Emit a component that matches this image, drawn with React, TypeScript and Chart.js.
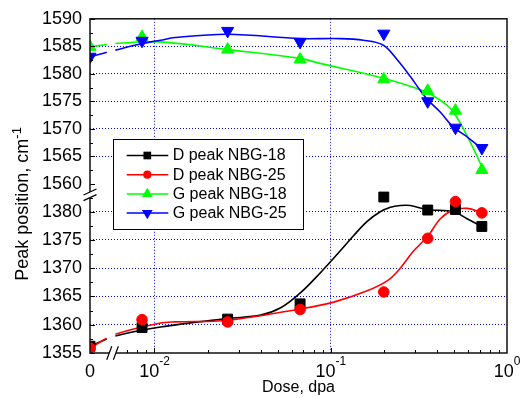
import React, { useEffect, useRef } from 'react';
import { Chart, registerables } from 'chart.js';

Chart.register(...registerables);

// ---------- measured points ----------
const DOSE = [0, 0.0085, 0.026, 0.067, 0.2, 0.355, 0.51, 0.72];
const D_PEAK_NBG18 = [1356.2, 1359.5, 1361.0, 1363.7, 1382.6, 1380.3, 1380.4, 1377.4];
const D_PEAK_NBG25 = [1355.9, 1360.9, 1360.5, 1362.7, 1365.8, 1375.3, 1381.8, 1379.8];
const G_PEAK_NBG18 = [1584.9, 1586.7, 1584.4, 1582.6, 1579.0, 1576.9, 1573.3, 1562.5];
const G_PEAK_NBG25 = [1583.1, 1586.0, 1587.8, 1585.8, 1587.3, 1575.0, 1570.2, 1566.5];

// ---------- fitted curves ----------
const FIT_D18_DOSE = [0, 0.006, 0.0108, 0.026, 0.04, 0.052, 0.067, 0.082, 0.1, 0.118, 0.135, 0.161, 0.191, 0.218, 0.248, 0.283, 0.35, 0.5, 0.59, 0.72];
const FIT_D18 = [1356.2, 1358.0, 1359.6, 1361.1, 1361.7, 1363.0, 1365.6, 1368.3, 1371.2, 1373.7, 1375.8, 1378.3, 1380.0, 1380.8, 1381.1, 1381.1, 1380.4, 1380.0, 1378.8, 1377.4];
const FIT_D25_DOSE = [0, 0.006, 0.0108, 0.0131, 0.026, 0.067, 0.104, 0.161, 0.21, 0.248, 0.294, 0.354, 0.42, 0.497, 0.596, 0.72];
const FIT_D25 = [1355.9, 1358.3, 1360.3, 1360.5, 1360.8, 1362.8, 1364.0, 1366.0, 1367.8, 1370.0, 1373.0, 1375.6, 1378.8, 1380.3, 1380.6, 1379.8];
const FIT_G18_DOSE = [0, 0.006, 0.0108, 0.026, 0.067, 0.087, 0.199, 0.323, 0.382, 0.459, 0.497, 0.566, 0.645, 0.72];
const FIT_G18 = [1584.9, 1585.5, 1585.8, 1584.4, 1582.8, 1581.9, 1579.2, 1577.1, 1576.0, 1574.2, 1573.0, 1570.0, 1566.4, 1563.1];
const FIT_G25_DOSE = [0, 0.006, 0.0085, 0.0108, 0.0131, 0.026, 0.067, 0.113, 0.153, 0.199, 0.239, 0.283, 0.323, 0.354, 0.419, 0.497, 0.596, 0.72];
const FIT_G25 = [1583.1, 1584.3, 1585.5, 1586.1, 1586.6, 1587.2, 1586.4, 1586.4, 1586.1, 1585.2, 1582.5, 1579.5, 1576.9, 1575.3, 1573.0, 1570.3, 1568.5, 1566.4];

// ---------- axes ----------
const Y_TICKS = [1355, 1360, 1365, 1370, 1375, 1380, 1560, 1565, 1570, 1575, 1580, 1585, 1590];
const Y_MINOR = [1357.5, 1362.5, 1367.5, 1372.5, 1377.5, 1382.5, 1562.5, 1567.5, 1572.5, 1577.5, 1582.5, 1587.5];
const X_TICKS = [0, 0.01, 0.1, 1];
const X_TICK_BASE = ['0', '10', '10', '10'];
const X_TICK_EXP = ['', '-2', '-1', '0'];
const X_MINOR = [0.007, 0.008, 0.009, 0.02, 0.03, 0.04, 0.05, 0.06, 0.07, 0.08, 0.09, 0.2, 0.3, 0.4, 0.5, 0.6, 0.7, 0.8, 0.9];

const LEGEND_LABELS = ['D peak NBG-18', 'D peak NBG-25', 'G peak NBG-18', 'G peak NBG-25'];
const COLORS = ['#000000', '#ff0000', '#00ff00', '#0000ff'];
const SHAPES = ['rect', 'circle', 'triangle', 'triangleDown'];

// axis breaks
const Y_LOWER = [1355, 1383];
const Y_UPPER = [1558, 1590];
const Y_LOWER_SHARE = 0.4734;
const X_LOG_START = 0.006;
const X_ZERO_SPAN = 0.144; // decades used by the "0" section plus the break
const X_GAP_FROM = 0.096;
const X_BREAK_MARK = 0.128;
const X_MIN = Math.log10(X_LOG_START) - X_ZERO_SPAN;

const FONT = '"Liberation Sans", Arial, sans-serif';

function yMap(v: number) {
  if (v <= (Y_LOWER[1] + Y_UPPER[0]) / 2) {
    return ((v - Y_LOWER[0]) / (Y_LOWER[1] - Y_LOWER[0])) * Y_LOWER_SHARE;
  }
  return Y_LOWER_SHARE + ((v - Y_UPPER[0]) / (Y_UPPER[1] - Y_UPPER[0])) * (1 - Y_LOWER_SHARE);
}
function xMap(d: number) {
  return d <= 0 ? X_MIN : Math.log10(d);
}
const pts = (xs: number[], ys: number[]) => xs.map((d, i) => ({ x: xMap(d), y: yMap(ys[i]) }));

function drawShape(ctx: CanvasRenderingContext2D, shape: string, cx: number, cy: number, s: number) {
  ctx.beginPath();
  if (shape === 'rect') {
    ctx.rect(cx - s * 0.62, cy - s * 0.62, s * 1.24, s * 1.24);
  } else if (shape === 'circle') {
    ctx.arc(cx, cy, s * 0.66, 0, Math.PI * 2);
  } else if (shape === 'triangle') {
    ctx.moveTo(cx, cy - s);
    ctx.lineTo(cx + s * 0.866, cy + s * 0.5);
    ctx.lineTo(cx - s * 0.866, cy + s * 0.5);
    ctx.closePath();
  } else {
    ctx.moveTo(cx, cy + s);
    ctx.lineTo(cx + s * 0.866, cy - s * 0.5);
    ctx.lineTo(cx - s * 0.866, cy - s * 0.5);
    ctx.closePath();
  }
  ctx.fill();
}

const decor = {
  id: 'decor',
  afterDatasetsDraw(chart: any) {
    const { ctx, chartArea: a, scales } = chart;
    const xs = scales.x;
    const ys = scales.y;
    ctx.save();
    // inward ticks
    ctx.strokeStyle = '#000';
    ctx.lineWidth = 1;
    ctx.beginPath();
    Y_TICKS.forEach((v) => {
      const py = Math.round(ys.getPixelForValue(yMap(v))) + 0.5;
      ctx.moveTo(a.left, py);
      ctx.lineTo(a.left + 5, py);
    });
    Y_MINOR.forEach((v) => {
      const py = Math.round(ys.getPixelForValue(yMap(v))) + 0.5;
      ctx.moveTo(a.left, py);
      ctx.lineTo(a.left + 3, py);
    });
    X_TICKS.slice(1, 3).forEach((d) => {
      const px = Math.round(xs.getPixelForValue(xMap(d))) + 0.5;
      ctx.moveTo(px, a.bottom);
      ctx.lineTo(px, a.bottom - 5);
    });
    X_MINOR.forEach((d) => {
      const px = Math.round(xs.getPixelForValue(xMap(d))) + 0.5;
      ctx.moveTo(px, a.bottom);
      ctx.lineTo(px, a.bottom - 3);
    });
    ctx.stroke();
    // frame
    ctx.lineWidth = 1.5;
    ctx.strokeStyle = '#111';
    ctx.strokeRect(a.left, a.top, a.right - a.left, a.bottom - a.top);

    // x axis break
    const bx = xs.getPixelForValue(X_MIN + X_BREAK_MARK);
    const by = a.bottom;
    const hx = 2.5, hy = 6.7, off = 3.3;
    ctx.fillStyle = '#fff';
    ctx.beginPath();
    ctx.moveTo(bx - off - hx, by + hy);
    ctx.lineTo(bx - off + hx, by - hy);
    ctx.lineTo(bx + off + hx, by - hy);
    ctx.lineTo(bx + off - hx, by + hy);
    ctx.closePath();
    ctx.fill();
    ctx.strokeStyle = '#000';
    ctx.lineWidth = 1.2;
    ctx.beginPath();
    ctx.moveTo(bx - off - hx, by + hy);
    ctx.lineTo(bx - off + hx, by - hy);
    ctx.moveTo(bx + off - hx, by + hy);
    ctx.lineTo(bx + off + hx, by - hy);
    ctx.stroke();

    // y axis break
    const cx = a.left;
    const cy = ys.getPixelForValue(Y_LOWER_SHARE);
    const vx = 6.5, vy = 3, voff = 2.8;
    ctx.fillStyle = '#fff';
    ctx.beginPath();
    ctx.moveTo(cx - vx, cy + voff + vy);
    ctx.lineTo(cx + vx, cy + voff - vy);
    ctx.lineTo(cx + vx, cy - voff - vy);
    ctx.lineTo(cx - vx, cy - voff + vy);
    ctx.closePath();
    ctx.fill();
    ctx.beginPath();
    ctx.moveTo(cx - vx, cy + voff + vy);
    ctx.lineTo(cx + vx, cy + voff - vy);
    ctx.moveTo(cx - vx, cy - voff + vy);
    ctx.lineTo(cx + vx, cy - voff - vy);
    ctx.stroke();

    // legend
    const lx = a.left + 23.3;
    const ly = a.top + 120;
    ctx.fillStyle = '#fff';
    ctx.fillRect(lx, ly, 190, 90);
    ctx.strokeStyle = '#000';
    ctx.lineWidth = 1;
    ctx.strokeRect(Math.round(lx) + 0.5, Math.round(ly) + 0.5, 190, 90);
    ctx.font = `16px ${FONT}`;
    ctx.textBaseline = 'middle';
    ctx.textAlign = 'left';
    LEGEND_LABELS.forEach((label, i) => {
      const ry = ly + 16.7 + i * 19.2;
      ctx.strokeStyle = COLORS[i];
      ctx.lineWidth = 1.5;
      ctx.beginPath();
      ctx.moveTo(lx + 13.4, ry);
      ctx.lineTo(lx + 55, ry);
      ctx.stroke();
      ctx.fillStyle = COLORS[i];
      drawShape(ctx, SHAPES[i], lx + 34, ry, 6.2);
      ctx.fillStyle = '#000';
      ctx.fillText(label, lx + 59.4, ry + 0.5);
    });
    ctx.restore();
  },
  afterDraw(chart: any) {
    const { ctx, chartArea: a, scales } = chart;
    const xs = scales.x;
    ctx.save();
    ctx.fillStyle = '#000';
    ctx.textBaseline = 'alphabetic';
    ctx.textAlign = 'left';
    X_TICKS.forEach((d, i) => {
      const px = xs.getPixelForValue(xMap(d));
      ctx.font = `18px ${FONT}`;
      const bw = ctx.measureText(X_TICK_BASE[i]).width;
      ctx.font = `12px ${FONT}`;
      const ew = X_TICK_EXP[i] ? ctx.measureText(X_TICK_EXP[i]).width : 0;
      const start = px - (bw + ew) / 2;
      ctx.font = `18px ${FONT}`;
      ctx.fillText(X_TICK_BASE[i], start, a.bottom + 24);
      if (X_TICK_EXP[i]) {
        ctx.font = `12px ${FONT}`;
        ctx.fillText(X_TICK_EXP[i], start + bw, a.bottom + 12);
      }
    });
    // y title
    const main = 'Peak position, cm';
    const sup = '-1';
    ctx.font = `18px ${FONT}`;
    const mw = ctx.measureText(main).width;
    ctx.font = `13px ${FONT}`;
    const sw = ctx.measureText(sup).width;
    ctx.translate(28, (a.top + a.bottom) / 2 + 18);
    ctx.rotate(-Math.PI / 2);
    const s0 = -(mw + sw) / 2;
    ctx.font = `18px ${FONT}`;
    ctx.fillText(main, s0, 0);
    ctx.font = `13px ${FONT}`;
    ctx.fillText(sup, s0 + mw, -7);
    ctx.restore();
  },
};

function gapDash(ctx: any) {
  if (ctx.p0DataIndex !== 0) return undefined;
  const xs = ctx.chart.scales.x;
  const g0 = xs.getPixelForValue(X_MIN + X_GAP_FROM);
  const g1 = xs.getPixelForValue(Math.log10(X_LOG_START));
  const { p0, p1 } = ctx;
  const dx = p1.x - p0.x;
  const dy = p1.y - p0.y;
  const len = Math.hypot(dx, dy);
  const f0 = (g0 - p0.x) / dx;
  const f1 = (g1 - p0.x) / dx;
  return [f0 * len, Math.max(0.1, (f1 - f0) * len + 2), 1000];
}

export default function App() {
  const ref = useRef<HTMLCanvasElement | null>(null);
  useEffect(() => {
    if (!ref.current) return;
    const markerSets = [D_PEAK_NBG18, D_PEAK_NBG25, G_PEAK_NBG18, G_PEAK_NBG25];
    const fitX = [FIT_D18_DOSE, FIT_D25_DOSE, FIT_G18_DOSE, FIT_G25_DOSE];
    const fitY = [FIT_D18, FIT_D25, FIT_G18, FIT_G25];
    const pointStyles = ['rect', 'circle', 'triangle', 'triangle'];
    const radii = [7, 5.3, 7, 7];
    const rotations = [0, 0, 0, 180];

    const markerDatasets = markerSets.map((vals, i) => ({
      label: LEGEND_LABELS[i],
      data: pts(DOSE, vals),
      showLine: false,
      pointStyle: pointStyles[i],
      pointRadius: radii[i],
      pointRotation: rotations[i],
      pointBackgroundColor: COLORS[i],
      pointBorderColor: COLORS[i],
      pointBorderWidth: 1,
      order: 4 - i,
    }));
    const fitDatasets = fitX.map((xsArr, i) => ({
      label: LEGEND_LABELS[i] + ' fit',
      data: pts(xsArr, fitY[i]),
      showLine: true,
      borderColor: COLORS[i],
      borderWidth: 1.6,
      pointRadius: 0,
      tension: 0.35,
      segment: { borderDash: gapDash },
      order: 14 - i,
    }));

    const chart = new Chart(ref.current, {
      type: 'scatter',
      data: { datasets: [...markerDatasets, ...fitDatasets] as any },
      plugins: [decor as any],
      options: {
        responsive: false,
        animation: false,
        events: [],
        layout: { padding: { top: 15, right: 13, left: 0, bottom: 0 } },
        plugins: { legend: { display: false }, tooltip: { enabled: false } },
        scales: {
          x: {
            type: 'linear',
            min: X_MIN,
            max: 0,
            afterBuildTicks: (s: any) => {
              s.ticks = X_TICKS.map((d) => ({ value: xMap(d) }));
            },
            afterFit: (s: any) => {
              s.height = 45;
            },
            ticks: { display: false },
            grid: {
              drawTicks: false,
              lineWidth: 1,
              color: (c: any) => (c.index === 1 || c.index === 2 ? '#0000ff' : 'rgba(0,0,0,0)'),
            },
            border: { display: false, dash: [1, 2] },
            title: {
              display: true,
              text: 'Dose, dpa',
              color: '#000',
              font: { family: FONT, size: 16 },
              padding: { top: 0, bottom: 1 },
            },
          },
          y: {
            type: 'linear',
            min: 0,
            max: 1,
            afterBuildTicks: (s: any) => {
              s.ticks = Y_TICKS.map((v) => ({ value: yMap(v) }));
            },
            afterFit: (s: any) => {
              s.width = 90;
            },
            ticks: {
              autoSkip: false,
              padding: 8,
              color: '#000',
              font: { family: FONT, size: 18 },
              callback: (_v: any, i: number) => String(Y_TICKS[i]),
            },
            grid: {
              drawTicks: false,
              lineWidth: 1,
              color: (c: any) => {
                const v = Y_TICKS[c.index];
                return v === 1355 || v === 1590 || v === 1560 ? 'rgba(0,0,0,0)' : '#0000ff';
              },
            },
            border: { display: false, dash: [1, 2] },
          },
        },
      } as any,
    });
    return () => chart.destroy();
  }, []);

  return (
    <div style={{ position: 'fixed', left: 0, top: 0, width: 520, height: 398, background: '#fff' }}>
      <canvas ref={ref} width={520} height={398} style={{ display: 'block' }} />
    </div>
  );
}
